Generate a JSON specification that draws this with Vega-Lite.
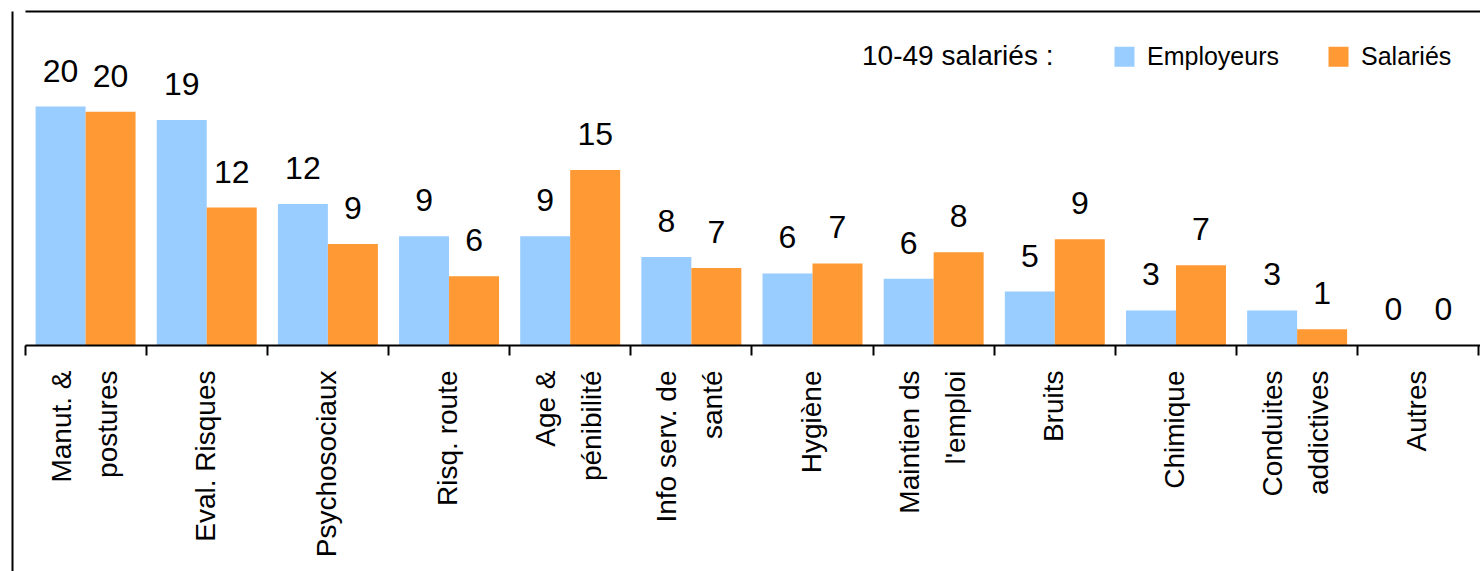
{
  "$schema": "https://vega.github.io/schema/vega-lite/v6.json",
  "autosize": {"type": "none"},
  "padding": {"left": 12, "top": 11, "right": 0, "bottom": 0},
  "width": 1468,
  "height": 560,
  "background": "white",
  "config": {"view": {"stroke": null}, "font": "Liberation Sans"},
  "data": {"values": [
    {"cat": "Manut. &\npostures", "series": "Employeurs", "value": 20.3},
    {"cat": "Manut. &\npostures", "series": "Salariés", "value": 19.85},
    {"cat": "Eval. Risques", "series": "Employeurs", "value": 19.15},
    {"cat": "Eval. Risques", "series": "Salariés", "value": 11.7},
    {"cat": "Psychosociaux", "series": "Employeurs", "value": 12.0},
    {"cat": "Psychosociaux", "series": "Salariés", "value": 8.6},
    {"cat": "Risq. route", "series": "Employeurs", "value": 9.25},
    {"cat": "Risq. route", "series": "Salariés", "value": 5.85},
    {"cat": "Age &\npénibilité", "series": "Employeurs", "value": 9.25},
    {"cat": "Age &\npénibilité", "series": "Salariés", "value": 14.9},
    {"cat": "Info serv. de\nsanté", "series": "Employeurs", "value": 7.5},
    {"cat": "Info serv. de\nsanté", "series": "Salariés", "value": 6.55},
    {"cat": "Hygiène", "series": "Employeurs", "value": 6.1},
    {"cat": "Hygiène", "series": "Salariés", "value": 6.95},
    {"cat": "Maintien ds\nl'emploi", "series": "Employeurs", "value": 5.65},
    {"cat": "Maintien ds\nl'emploi", "series": "Salariés", "value": 7.9},
    {"cat": "Bruits", "series": "Employeurs", "value": 4.55},
    {"cat": "Bruits", "series": "Salariés", "value": 9.0},
    {"cat": "Chimique", "series": "Employeurs", "value": 2.95},
    {"cat": "Chimique", "series": "Salariés", "value": 6.8},
    {"cat": "Conduites\naddictives", "series": "Employeurs", "value": 2.95},
    {"cat": "Conduites\naddictives", "series": "Salariés", "value": 1.35},
    {"cat": "Autres", "series": "Employeurs", "value": 0},
    {"cat": "Autres", "series": "Salariés", "value": 0}
  ]},
  "encoding": {
    "x": {
      "field": "cat", "type": "nominal", "sort": null,
      "scale": {
        "domain": ["Manut. &\npostures", "Eval. Risques", "Psychosociaux", "Risq. route", "Age &\npénibilité", "Info serv. de\nsanté", "Hygiène", "Maintien ds\nl'emploi", "Bruits", "Chimique", "Conduites\naddictives", "Autres", " "],
        "range": [13, 1588],
        "paddingInner": 0,
        "paddingOuter": 0
      },
      "axis": {
        "title": null,
        "bandPosition": 0,
        "offset": -226,
        "grid": false,
        "domainColor": "black",
        "domainWidth": 2,
        "tickColor": "black",
        "tickWidth": 2,
        "tickSize": 10,
        "labelAngle": -90,
        "labelAlign": "right",
        "labelBaseline": "middle",
        "labelFont": "Liberation Sans",
        "labelFontSize": 28,
        "labelColor": "black",
        "labelLineHeight": 46,
        "labelPadding": 15,
        "labelLimit": 400,
        "labelOverlap": false,
        "labelOffset": {"condition": {"test": "indexof(datum.label, '\\n') >= 0", "value": -23}, "value": 0},
        "labelExpr": "split(datum.label, '\\n')",
        "zindex": 1
      }
    },
    "xOffset": {
      "field": "series", "type": "nominal",
      "scale": {"domain": ["Employeurs", "Salariés"], "paddingInner": 0, "paddingOuter": 0.2117}
    },
    "y": {
      "field": "value", "type": "quantitative",
      "scale": {"domain": [-19.23, 28.43], "nice": false, "zero": false},
      "axis": {
        "title": null,
        "orient": "left",
        "domain": true,
        "domainColor": "black",
        "domainWidth": 2,
        "ticks": false,
        "labels": false,
        "grid": true,
        "values": [28.43],
        "gridColor": "black",
        "gridWidth": 2,
        "gridOpacity": 1
      }
    }
  },
  "layer": [
    {
      "mark": {"type": "bar"},
      "encoding": {
        "y2": {"datum": 0},
        "color": {
          "field": "series", "type": "nominal",
          "scale": {"domain": ["Employeurs", "Salariés"], "range": ["#99CCFF", "#FF9933"]},
          "legend": {
            "title": "10-49 salariés :",
            "orient": "none",
            "legendX": 850,
            "legendY": 33,
            "direction": "horizontal",
            "titleOrient": "left",
            "titlePadding": 58,
            "titleFont": "Liberation Sans",
            "titleFontSize": 28,
            "titleFontWeight": "normal",
            "titleColor": "black",
            "titleLimit": 0,
            "labelFont": "Liberation Sans",
            "labelFontSize": 25,
            "labelColor": "black",
            "labelOffset": 10,
            "symbolType": "square",
            "symbolSize": 400,
            "symbolStrokeWidth": 0,
            "symbolOpacity": 1,
            "columnPadding": 47
          }
        }
      }
    },
    {
      "mark": {"type": "text", "dy": -25, "baseline": "alphabetic", "fontSize": 32, "font": "Liberation Sans", "color": "black"},
      "encoding": {
        "text": {"field": "value", "type": "quantitative", "format": ".0f"}
      }
    }
  ]
}
